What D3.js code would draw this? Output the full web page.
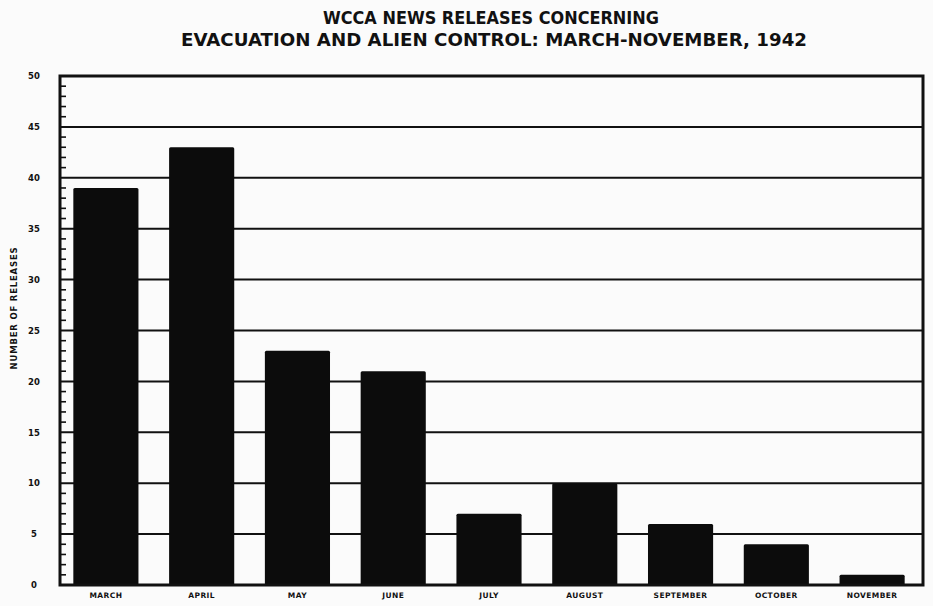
<!DOCTYPE html>
<html><head><meta charset="utf-8">
<script src="https://cdn.jsdelivr.net/npm/d3@7"></script>
<style>body{margin:0;background:#fafafa;} svg{display:block;}</style>
</head><body>
<svg id="chart" width="933" height="606"></svg>
<script>
const categories = ["MARCH","APRIL","MAY","JUNE","JULY","AUGUST","SEPTEMBER","OCTOBER","NOVEMBER"];
const releases = [39, 43, 23, 21, 7, 10, 6, 4, 1];
const yTicks = [0,5,10,15,20,25,30,35,40,45,50];
const titleLines = ["WCCA NEWS RELEASES CONCERNING","EVACUATION AND ALIEN CONTROL: MARCH-NOVEMBER, 1942"];
const yTitle = "NUMBER OF RELEASES";

const svg = d3.select("#chart");
const L = 60, R = 923, T = 76, B = 585;
const x = d3.scaleBand().domain(categories).range([58, 920]).paddingInner(0.32).paddingOuter(0.16);
const y = d3.scaleLinear().domain([0, 50]).range([B, T]);
const ink = "#111";
const font = "'DejaVu Sans', sans-serif";

svg.append("rect").attr("width",933).attr("height",606).attr("fill","#fbfbfb");

// gridlines at major ticks
svg.append("g").selectAll("line").data(yTicks.filter(d=>d>0 && d<50)).join("line")
  .attr("x1", L).attr("x2", R).attr("y1", d=>y(d)).attr("y2", d=>y(d))
  .attr("stroke", ink).attr("stroke-width", 2);

// bars
svg.append("g").selectAll("rect").data(categories).join("rect")
  .attr("x", d=>x(d)).attr("width", x.bandwidth())
  .attr("y", (d,i)=>y(releases[i])).attr("height", (d,i)=>B - y(releases[i]))
  .attr("fill", "#0c0c0c").attr("rx", 1.5);

// frame
svg.append("rect").attr("x", L).attr("y", T).attr("width", R-L).attr("height", B-T)
  .attr("fill","none").attr("stroke", ink).attr("stroke-width", 3);

// minor ticks (inside, right of axis)
const minor = d3.range(1, 50).filter(d=>d%5!==0);
svg.append("g").selectAll("line").data(minor).join("line")
  .attr("x1", L).attr("x2", L+6).attr("y1", d=>y(d)).attr("y2", d=>y(d))
  .attr("stroke", ink).attr("stroke-width", 1.6);

// y axis labels via d3 axis
const yAxis = d3.axisLeft(y).tickValues(yTicks).tickSize(0).tickPadding(0).tickFormat(d3.format("d"));
const gy = svg.append("g").attr("transform", `translate(40,0)`).call(yAxis);
gy.select(".domain").remove();
gy.selectAll("text").attr("font-family", font).attr("font-weight","bold").attr("font-size", 8.5)
  .attr("fill", ink).attr("text-anchor","middle").attr("x", -6);

// x axis labels
const xAxis = d3.axisBottom(x).tickSize(0).tickPadding(0);
const gx = svg.append("g").attr("transform", `translate(0,${B+6})`).call(xAxis);
gx.select(".domain").remove();
gx.selectAll("text").attr("font-family", font).attr("font-weight","bold").attr("font-size", 7.5)
  .attr("letter-spacing", 0.4).attr("fill", ink).attr("dy", "0.9em");

// y title
svg.append("text").attr("transform", "translate(17,308) rotate(-90)")
  .attr("text-anchor","middle").attr("font-family", font).attr("font-weight","bold")
  .attr("font-size", 8.5).attr("letter-spacing", 0.8).attr("fill", ink).text(yTitle);

// title
svg.append("text").attr("x", 491).attr("y", 24).attr("text-anchor","middle")
  .attr("font-family", font).attr("font-weight","bold").attr("font-size", 17)
  .attr("textLength", 336).attr("lengthAdjust","spacingAndGlyphs").attr("fill", ink).text(titleLines[0]);
svg.append("text").attr("x", 494).attr("y", 46).attr("text-anchor","middle")
  .attr("font-family", font).attr("font-weight","bold").attr("font-size", 17)
  .attr("textLength", 626).attr("lengthAdjust","spacingAndGlyphs").attr("fill", ink).text(titleLines[1]);
</script>
</body></html>
